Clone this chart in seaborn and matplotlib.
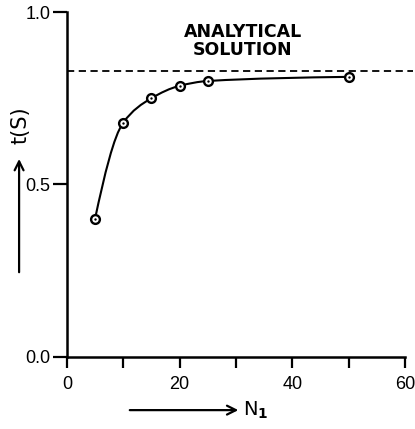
import numpy as np
import pandas as pd
import matplotlib
matplotlib.use("Agg")
from matplotlib import pyplot as plt
from matplotlib.path import Path
from matplotlib.patches import PathPatch
import seaborn as sns

# values
n1 = [5, 10, 15, 20, 25, 50]
t_s = [0.40, 0.679, 0.750, 0.786, 0.800, 0.812]
analytical = 0.830

df = pd.DataFrame({'N1': n1, 't': t_s})

sns.set_style('ticks')
plt.rcParams['font.family'] = ['Liberation Sans', 'DejaVu Sans']
plt.rcParams['mathtext.fontset'] = 'dejavusans'
plt.rcParams['text.color'] = 'black'

fig = plt.figure(figsize=(4.15, 4.29), dpi=100)
ax = fig.add_axes([0.161, 0.168, 0.815, 0.804])


# smooth curve through the measured points (monotone cubic, drawn as bezier)
def bezier_path(x, y):
    x = np.asarray(x, float)
    y = np.asarray(y, float)
    h = np.diff(x)
    d = np.diff(y) / h
    m = np.zeros_like(x)
    for i in range(1, len(x) - 1):
        if d[i - 1] * d[i] > 0:
            w1 = 2 * h[i] + h[i - 1]
            w2 = h[i] + 2 * h[i - 1]
            m[i] = (w1 + w2) / (w1 / d[i - 1] + w2 / d[i])
    m[0] = ((2 * h[0] + h[1]) * d[0] - h[0] * d[1]) / (h[0] + h[1])
    m[-1] = d[-1] * 0.5
    verts = [(x[0], y[0])]
    codes = [Path.MOVETO]
    for i in range(len(x) - 1):
        verts += [(x[i] + h[i] / 3, y[i] + m[i] * h[i] / 3),
                  (x[i + 1] - h[i] / 3, y[i + 1] - m[i + 1] * h[i] / 3),
                  (x[i + 1], y[i + 1])]
        codes += [Path.CURVE4] * 3
    return Path(verts, codes)


ax.add_patch(PathPatch(bezier_path(df['N1'], df['t']), facecolor='none',
                       edgecolor='black', lw=1.5, zorder=2))

ax.plot([0, 61.5], [analytical, analytical], ls=(0, (4, 2.5)), color='black',
        lw=1.3, clip_on=False, zorder=1)

sns.scatterplot(data=df, x='N1', y='t', ax=ax, s=40, marker='o',
                facecolor='white', edgecolor='black', linewidth=1.7, zorder=3)
sns.scatterplot(data=df, x='N1', y='t', ax=ax, s=3, marker='o',
                color='black', linewidth=0, zorder=4)

ax.text(31.2, 0.915, 'ANALYTICAL\nSOLUTION', ha='center', va='center',
        fontsize=12.5, linespacing=1.0, fontweight='bold', color='black',
        family='DejaVu Sans')

ax.set_xlim(0, 60)
ax.set_ylim(0, 1.0)
ax.set_xticks([0, 20, 40, 60])
ax.set_xticks([10, 30, 50], minor=True)
ax.set_yticks([0, 0.5, 1.0])
ax.set_yticklabels(['0.0', '0.5', '1.0'])
ax.set_xticklabels(['0', '20', '40', '60'])
ax.tick_params(axis='both', which='both', direction='out', width=1.6,
               color='black', labelsize=13, labelcolor='black')
ax.tick_params(axis='x', which='both', length=8, pad=6)
ax.tick_params(axis='y', which='both', length=10, pad=2)
ax.set_xlabel('')
ax.set_ylabel('')
sns.despine(ax=ax)
for side in ['left', 'bottom']:
    ax.spines[side].set_linewidth(1.8)
    ax.spines[side].set_color('black')

# axis titles with arrows
ax.annotate('', xy=(0.046, 0.636), xytext=(0.046, 0.359),
            xycoords='figure fraction',
            arrowprops=dict(arrowstyle='->', lw=1.6, color='black',
                            mutation_scale=16))
fig.text(0.049, 0.708, 't(S)', rotation=90, ha='center', va='center',
         fontsize=15, color='black', family='DejaVu Sans')
ax.annotate('', xy=(0.581, 0.044), xytext=(0.306, 0.044),
            xycoords='figure fraction',
            arrowprops=dict(arrowstyle='->', lw=1.6, color='black',
                            mutation_scale=16))
fig.text(0.585, 0.044, r'N$_\mathbf{1}$', ha='left', va='center',
         fontsize=14, color='black', family='DejaVu Sans')

fig.savefig('out.png', dpi=100)
